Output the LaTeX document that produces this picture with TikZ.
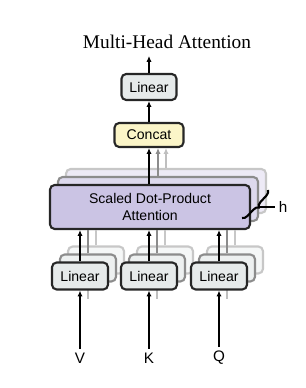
\documentclass[tikz,border=0pt]{standalone}
\usepackage{fontspec}
\setmainfont{Liberation Serif}
\setsansfont{Liberation Sans}
\usetikzlibrary{arrows.meta,positioning,decorations.pathreplacing}
\definecolor{linfill}{RGB}{230,234,234}
\definecolor{catfill}{RGB}{251,245,200}
\definecolor{attfill}{RGB}{203,196,228}

\begin{document}
\begin{tikzpicture}[x=0.03cm, y=-0.03cm,
    box/.style={draw=black!85, line width=1.8pt, rounded corners=4pt, font=\sffamily\fontsize{12}{15.3}\selectfont, align=center, inner sep=0pt},
    linbox/.style={box, fill=linfill, minimum width=1.68cm, minimum height=0.81cm},
    attbox/.style={box, fill=attfill, minimum width=6cm, minimum height=1.32cm},
    back1/.style={draw=black!45},
    back2/.style={draw=black!22},
    arr/.style={-{Latex[length=5pt,width=4.5pt]}, line width=1.4pt},
    lbl/.style={font=\sffamily\fontsize{13}{15}\selectfont}
]
\useasboundingbox (0,0) rectangle (306,388);

% title
\node[font=\fontsize{16.5}{18}\selectfont] (title) at (167,42) {Multi-Head Attention};

% h copies of attention
\node[attbox, back2, fill=attfill!35!white] (att2) at (166,191) {};
\node[attbox, back1, fill=attfill!65!white] (att1) at (158,199) {};
\node[attbox] (att) at (150,207) {Scaled Dot-Product\\Attention};

% linear projections for V, K, Q
\foreach \x/\n/\t in {80/v/V,149/k/K,219/q/Q} {
  \node[linbox, back2, fill=linfill!40!white] (\n2) at (\x+16,260) {};
  \draw[black!22, line width=1.4pt] (\n2.north) -- (\n2.north |- att.south);
  \draw[black!15, line width=1.4pt] (\n2.south) -- ++(0,12);
  \node[linbox, back1, fill=linfill!70!white] (\n1) at (\x+8,268) {};
  \draw[black!45, line width=1.4pt] (\n1.north) -- (\n1.north |- att.south);
  \draw[black!25, line width=1.4pt] (\n1.south) -- ++(0,16);
  \node[linbox] (\n) at (\x,276) {Linear};
  \draw[arr] (\n.north) -- (\n.north |- att.south);
  \node[lbl] (\n in) at (\x,358) {\t};
  \draw[arr] (\n in.north) -- (\n.south);
}

% concat and output
\node[box, fill=catfill, minimum width=2.07cm, minimum height=0.72cm] (concat) at (149,135) {Concat};
\node[box, fill=linfill, minimum width=1.65cm, minimum height=0.78cm] (lout) at (149,87) {Linear};
\coordinate (out) at (149,56);

\draw[arr] (concat.south |- att.north) -- (concat.south);
\draw[arr, black!45] (att1.north) -- (att1.north |- concat.south);
\draw[arr, black!25] (att2.north) -- (att2.north |- concat.south);
\draw[arr] (concat) -- (lout);
\draw[arr] (lout) -- (out);

% brace for h heads
\draw[line width=1.8pt, decorate, decoration={brace, amplitude=4.5pt}] (268,190) -- (242,218);
\coordinate (htip) at (259,207);
\node[lbl] (hlab) at (283,207) {h};
\draw[line width=1.3pt] (htip) -- (hlab.west);
\end{tikzpicture}
\end{document}
